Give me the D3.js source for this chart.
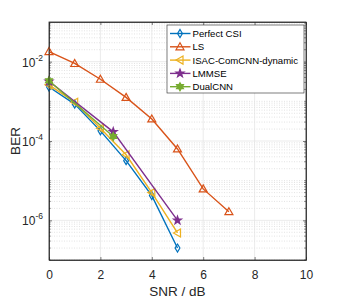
<!DOCTYPE html>
<html>
<head>
<meta charset="utf-8">
<script src="https://cdn.jsdelivr.net/npm/d3@7"></script>
<style>
  body { margin: 0; background: #fff; }
  svg { font-family: "Liberation Sans", Arial, sans-serif; }
</style>
</head>
<body>
<svg id="svg" width="339" height="300"></svg>
<script>
// data
const snrPerfect = [0, 1, 2, 3, 4, 5];
const berPerfect = [2.3e-3, 8.5e-4, 1.8e-4, 3.2e-5, 4.2e-6, 2.0e-7];
const snrLS = [0, 1, 2, 3, 4, 5, 6, 7];
const berLS = [1.8e-2, 9.0e-3, 3.6e-3, 1.26e-3, 3.6e-4, 6.3e-5, 6.2e-6, 1.65e-6];
const snrISAC = [0, 1, 2, 3, 4, 5];
const berISAC = [2.6e-3, 9.5e-4, 2.1e-4, 4.5e-5, 5.0e-6, 4.8e-7];
const snrLMMSE = [0, 2.5, 5];
const berLMMSE = [3.2e-3, 1.7e-4, 1.0e-6];
const snrDual = [0, 2.5];
const berDual = [3.3e-3, 1.3e-4];

const seriesNames = ["Perfect CSI", "LS", "ISAC-ComCNN-dynamic", "LMMSE", "DualCNN"];
const seriesColors = ["#0072BD", "#D95319", "#EDB120", "#7E2F8E", "#77AC30"];
const seriesMarkers = ["diamond", "triangle", "left", "star", "hexagram"];
const xTicks = [0, 2, 4, 6, 8, 10];
const yTicks = [1e-2, 1e-4, 1e-6];

const series = [
  [snrPerfect, berPerfect],
  [snrLS, berLS],
  [snrISAC, berISAC],
  [snrLMMSE, berLMMSE],
  [snrDual, berDual]
].map(([xs, ys], i) => ({
  name: seriesNames[i], color: seriesColors[i], marker: seriesMarkers[i],
  pts: xs.map((x, j) => ({x: x, y: ys[j]}))
}));

const margin = {top: 22, right: 33, bottom: 40, left: 49};
const W = 339, H = 300;
const width = W - margin.left - margin.right;
const height = H - margin.top - margin.bottom;

const svg = d3.select("#svg");
const g = svg.append("g").attr("transform", "translate(" + margin.left + "," + margin.top + ")");

const x = d3.scaleLinear().domain([0, 10]).range([0, width]);
const y = d3.scaleLog().domain([1e-7, 1e-1]).range([height, 0]);

// minor grid (dotted)
const minorVals = [];
for (let e = -7; e < -1; e++) {
  for (let m = 1; m <= 9; m++) {
    const v = m * Math.pow(10, e);
    if (!yTicks.some(t => Math.abs(t - v) / v < 1e-6)) minorVals.push(v);
  }
}
g.append("g").selectAll("line").data(minorVals).enter().append("line")
  .attr("x1", 0).attr("x2", width)
  .attr("y1", d => y(d)).attr("y2", d => y(d))
  .attr("stroke", "#d0d0d0").attr("stroke-width", 0.6).attr("stroke-dasharray", "1,1.5");

// major grid
g.append("g").selectAll("line").data(yTicks).enter().append("line")
  .attr("x1", 0).attr("x2", width)
  .attr("y1", d => y(d)).attr("y2", d => y(d))
  .attr("stroke", "#e3e3e3").attr("stroke-width", 0.7);
g.append("g").selectAll("line").data(xTicks.slice(1, -1)).enter().append("line")
  .attr("y1", 0).attr("y2", height)
  .attr("x1", d => x(d)).attr("x2", d => x(d))
  .attr("stroke", "#e3e3e3").attr("stroke-width", 0.7);

// axes
const axCol = "#262626";
const xAxis = g.append("g").attr("transform", "translate(0," + height + ")")
  .call(d3.axisBottom(x).tickValues(xTicks).tickSizeInner(-3).tickSizeOuter(0).tickPadding(10));
const xTop = g.append("g")
  .call(d3.axisTop(x).tickValues(xTicks).tickSizeInner(-3).tickSizeOuter(0).tickFormat(""));
const yAxis = g.append("g")
  .call(d3.axisLeft(y).tickValues(yTicks).tickSizeInner(-3).tickSizeOuter(0).tickPadding(5).tickFormat(""));
const yRight = g.append("g").attr("transform", "translate(" + width + ",0)")
  .call(d3.axisRight(y).tickValues(yTicks).tickSizeInner(-3).tickSizeOuter(0).tickFormat(""));
// minor ticks on y
[0, width].forEach(px => {
  g.append("g").selectAll("line").data(minorVals).enter().append("line")
    .attr("x1", px).attr("x2", px === 0 ? 1.8 : width - 1.8)
    .attr("y1", d => y(d)).attr("y2", d => y(d))
    .attr("stroke", axCol).attr("stroke-width", 0.5);
});
[xAxis, xTop, yAxis, yRight].forEach(a => {
  a.selectAll("path").attr("stroke", axCol).attr("stroke-width", 0.8);
  a.selectAll("line").attr("stroke", axCol).attr("stroke-width", 0.6);
});
xAxis.selectAll("text").attr("font-size", 12).attr("fill", axCol)
  .attr("font-family", "Liberation Sans, Arial, sans-serif");

// y tick labels with superscripts
const yl = g.append("g").selectAll("text").data(yTicks).enter().append("text")
  .attr("x", -6).attr("y", d => y(d) + 5)
  .attr("text-anchor", "end").attr("fill", axCol).attr("font-size", 12);
yl.append("tspan").text("10");
yl.append("tspan").attr("dy", -6).attr("font-size", 8.5).text(d => Math.round(Math.log10(d)));

// axis labels
svg.append("text").attr("x", margin.left + width / 2).attr("y", 296)
  .attr("text-anchor", "middle").attr("font-size", 13.5).attr("fill", axCol).text("SNR / dB");
svg.append("text").attr("transform", "translate(20," + (margin.top + height / 2) + ") rotate(-90)")
  .attr("text-anchor", "middle").attr("font-size", 13.5).attr("fill", axCol).text("BER");

// marker shapes
function starPath(points, rOut, rIn) {
  let p = "";
  for (let k = 0; k < points * 2; k++) {
    const r = k % 2 === 0 ? rOut : rIn;
    const a = Math.PI / points * k - Math.PI / 2;
    p += (k === 0 ? "M" : "L") + (r * Math.cos(a)).toFixed(2) + "," + (r * Math.sin(a)).toFixed(2);
  }
  return p + "Z";
}
function markerPath(type, s) {
  switch (type) {
    case "diamond": return "M0," + (-s) + "L" + s * 0.6 + ",0L0," + s + "L" + (-s * 0.6) + ",0Z";
    case "triangle": return "M0," + (-s) + "L" + s + "," + s * 0.75 + "L" + (-s) + "," + s * 0.75 + "Z";
    case "left": return "M" + (-s) + ",0L" + s * 0.75 + "," + (-s) + "L" + s * 0.75 + "," + s + "Z";
    case "star": return starPath(5, s * 1.05, s * 0.42);
    case "hexagram": return starPath(6, s, s * 0.58);
  }
}

const line = d3.line().x(d => x(d.x)).y(d => y(d.y));
const plot = g.append("g");
series.forEach(s => {
  plot.append("path").datum(s.pts).attr("d", line)
    .attr("fill", "none").attr("stroke", s.color).attr("stroke-width", 1.4);
  const filled = s.marker === "star" || s.marker === "hexagram";
  plot.append("g").selectAll("path").data(s.pts).enter().append("path")
    .attr("transform", d => "translate(" + x(d.x) + "," + y(d.y) + ")")
    .attr("d", markerPath(s.marker, 4))
    .attr("fill", filled ? s.color : "none")
    .attr("stroke", s.color).attr("stroke-width", 1.2);
});

// box on top
g.append("rect").attr("width", width).attr("height", height)
  .attr("fill", "none").attr("stroke", axCol).attr("stroke-width", 0.8);

// legend
const lg = svg.append("g").attr("transform", "translate(167,25)");
lg.append("rect").attr("width", 137).attr("height", 68)
  .attr("fill", "#fff").attr("stroke", axCol).attr("stroke-width", 0.6);
series.forEach((s, i) => {
  const yy = 8.5 + i * 13.3;
  lg.append("line").attr("x1", 3).attr("x2", 23.5).attr("y1", yy).attr("y2", yy)
    .attr("stroke", s.color).attr("stroke-width", 1.4);
  const filled = s.marker === "star" || s.marker === "hexagram";
  lg.append("path").attr("transform", "translate(13," + yy + ")")
    .attr("d", markerPath(s.marker, 4))
    .attr("fill", filled ? s.color : "none").attr("stroke", s.color).attr("stroke-width", 1.2);
  lg.append("text").attr("x", 25.5).attr("y", yy + 3.5)
    .attr("font-size", 9.6).attr("fill", "#000").text(s.name);
});
</script>
</body>
</html>
